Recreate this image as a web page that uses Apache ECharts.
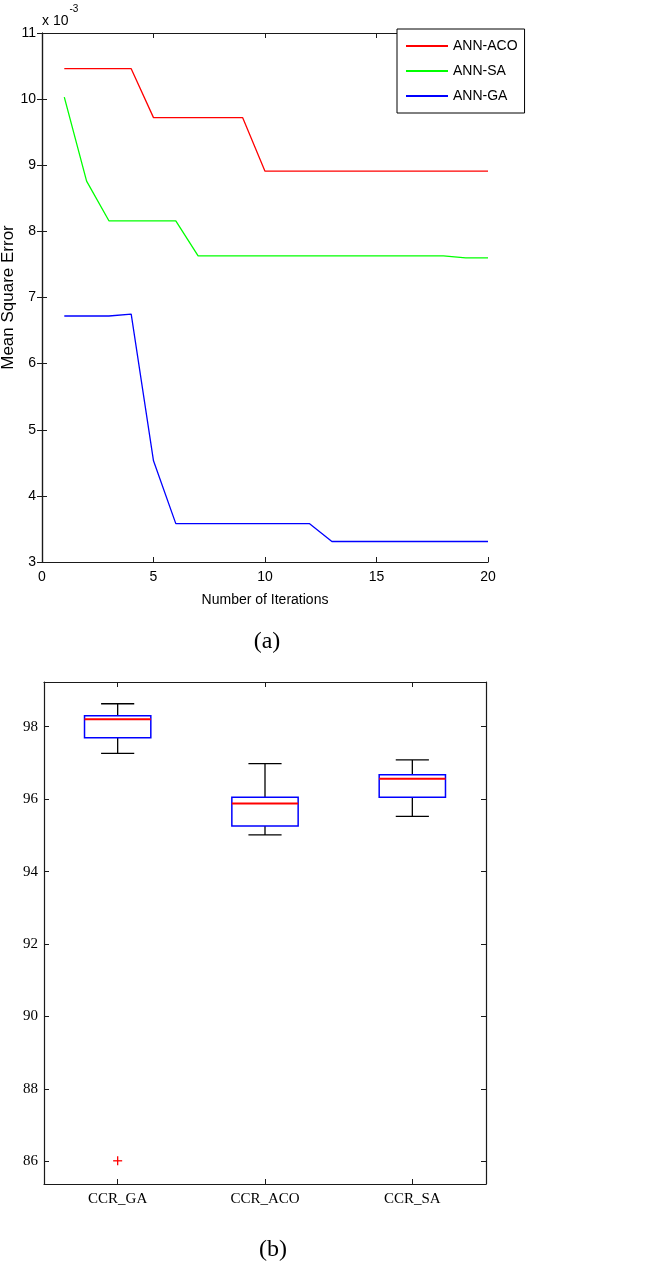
<!DOCTYPE html>
<html><head><meta charset="utf-8">
<script src="https://cdn.jsdelivr.net/npm/echarts@6/dist/echarts.min.js"></script>
<style>html,body{margin:0;padding:0;background:#fff}#c{width:662px;height:1265px}</style>
</head><body><div id="c"></div>
<script>
// ---- (a) Mean square error vs iterations (values x 10^-3) ----
const iterations = [1,2,3,4,5,6,7,8,9,10,11,12,13,14,15,16,17,18,19,20];
const annACO = [10.46,10.46,10.46,10.46,9.72,9.72,9.72,9.72,9.72,8.91,8.91,8.91,8.91,8.91,8.91,8.91,8.91,8.91,8.91,8.91];
const annSA  = [10.03,8.76,8.16,8.16,8.16,8.16,7.63,7.63,7.63,7.63,7.63,7.63,7.63,7.63,7.63,7.63,7.63,7.63,7.60,7.60];
const annGA  = [6.72,6.72,6.72,6.75,4.53,3.58,3.58,3.58,3.58,3.58,3.58,3.58,3.31,3.31,3.31,3.31,3.31,3.31,3.31,3.31];
const seriesNames = ['ANN-ACO','ANN-SA','ANN-GA'];

// ---- (b) Box plot of CCR ----
const boxCategories = ['CCR_GA','CCR_ACO','CCR_SA'];
const boxLower  = [97.26, 95.01, 95.52];
const boxQ1     = [97.69, 95.26, 96.05];
const boxMedian = [98.20, 95.88, 96.56];
const boxQ3     = [98.30, 96.05, 96.67];
const boxUpper  = [98.63, 96.98, 97.08];
const outliers  = [[0, 86.02]];
const ccrTicks  = [86, 88, 90, 92, 94, 96, 98];

const SANS = 'Liberation Sans, Arial, sans-serif';
const SERIF = 'Liberation Serif, Times New Roman, serif';
const AX = '#1a1a1a';

const chart = echarts.init(document.getElementById('c'), null, {renderer: 'canvas'});

function renderBox(params, api) {
  const i = api.value(0);
  const lo = api.coord([i, api.value(1)]);
  const q1 = api.coord([i, api.value(2)]);
  const md = api.coord([i, api.value(3)]);
  const q3 = api.coord([i, api.value(4)]);
  const hi = api.coord([i, api.value(5)]);
  const band = api.size([1, 0])[0];
  const bw = band * 0.45, cw = band * 0.225;
  const x = lo[0];
  const black = {stroke: '#000', lineWidth: 1.3};
  return {type: 'group', children: [
    {type: 'line', shape: {x1: x, y1: hi[1], x2: x, y2: q3[1]}, style: black},
    {type: 'line', shape: {x1: x, y1: q1[1], x2: x, y2: lo[1]}, style: black},
    {type: 'line', shape: {x1: x - cw / 2, y1: hi[1], x2: x + cw / 2, y2: hi[1]}, style: black},
    {type: 'line', shape: {x1: x - cw / 2, y1: lo[1], x2: x + cw / 2, y2: lo[1]}, style: black},
    {type: 'rect', shape: {x: x - bw / 2, y: q3[1], width: bw, height: q1[1] - q3[1]},
      style: {fill: 'none', stroke: '#0000ff', lineWidth: 1.5}},
    {type: 'line', shape: {x1: x - bw / 2, y1: md[1], x2: x + bw / 2, y2: md[1]},
      style: {stroke: '#ff0000', lineWidth: 2}}
  ]};
}
function renderOutlier(params, api) {
  const p = api.coord([api.value(0), api.value(1)]);
  const s = {stroke: '#ff0000', lineWidth: 1.3};
  return {type: 'group', children: [
    {type: 'line', shape: {x1: p[0] - 4.5, y1: p[1], x2: p[0] + 4.5, y2: p[1]}, style: s},
    {type: 'line', shape: {x1: p[0], y1: p[1] - 4.5, x2: p[0], y2: p[1] + 4.5}, style: s}
  ]};
}

const tickIn = {show: true, inside: true, length: 5, lineStyle: {color: AX, width: 1}};
const lineAx = {show: true, lineStyle: {color: AX, width: 1.2}};

const option = {
  animation: false,
  backgroundColor: '#fff',
  title: [
    {text: '(a)', left: 262, top: 625, textAlign: 'center',
      textStyle: {fontFamily: SERIF, fontSize: 24, fontWeight: 'normal', color: '#000'}},
    {text: '(b)', left: 268, top: 1233, textAlign: 'center',
      textStyle: {fontFamily: SERIF, fontSize: 24, fontWeight: 'normal', color: '#000'}}
  ],
  graphic: [
    {type: 'text', left: 42, top: 4, z: 10,
      style: {text: '{a|x 10}{b|-3}', rich: {
        a: {fontFamily: SANS, fontSize: 14, color: '#000', padding: [10, 0, 0, 0]},
        b: {fontFamily: SANS, fontSize: 10, color: '#000', verticalAlign: 'top', padding: [0, 0, 8, 1]}
      }}}
  ],
  legend: {
    data: seriesNames,
    orient: 'vertical',
    left: 397, top: 29,
    padding: [10, 7, 10, 8],
    itemWidth: 42, itemHeight: 14, itemGap: 11,
    itemStyle: {opacity: 0},
    backgroundColor: '#fff',
    borderColor: '#000', borderWidth: 1,
    textStyle: {fontFamily: SANS, fontSize: 14, color: '#000'},
    z: 10
  },
  grid: [
    {left: 42, top: 33, width: 446, height: 529, outerBoundsMode: 'none', containLabel: false},
    {left: 44, top: 682, width: 442, height: 502, outerBoundsMode: 'none', containLabel: false}
  ],
  xAxis: [
    {gridIndex: 0, type: 'value', min: 0, max: 20, interval: 5, position: 'bottom',
      name: 'Number of Iterations', nameLocation: 'middle', nameGap: 31, nameMoveOverlap: false,
      nameTextStyle: {fontFamily: SANS, fontSize: 14, color: '#000'},
      axisLine: lineAx, axisTick: tickIn, splitLine: {show: false},
      axisLabel: {fontFamily: SANS, fontSize: 14, color: '#000', margin: 8}},
    {gridIndex: 0, type: 'value', min: 0, max: 20, interval: 5, position: 'top',
      axisLine: lineAx, axisTick: tickIn, splitLine: {show: false}, axisLabel: {show: false}},
    {gridIndex: 1, type: 'category', data: boxCategories, position: 'bottom', boundaryGap: true,
      axisLine: lineAx, axisTick: Object.assign({alignWithLabel: true}, tickIn), splitLine: {show: false},
      axisLabel: {fontFamily: SERIF, fontSize: 15, color: '#000', margin: 8}},
    {gridIndex: 1, type: 'category', data: boxCategories, position: 'top', boundaryGap: true,
      axisLine: lineAx, axisTick: Object.assign({alignWithLabel: true}, tickIn), splitLine: {show: false},
      axisLabel: {show: false}}
  ],
  yAxis: [
    {gridIndex: 0, type: 'value', min: 3, max: 11, interval: 1, position: 'left',
      name: 'Mean Square Error', nameLocation: 'middle', nameGap: 25, nameMoveOverlap: false,
      nameTextStyle: {fontFamily: SANS, fontSize: 17, color: '#000'},
      axisLine: lineAx, axisTick: tickIn, splitLine: {show: false},
      axisLabel: {fontFamily: SANS, fontSize: 14, color: '#000', margin: 6}},
    {gridIndex: 0, type: 'value', min: 3, max: 11, interval: 1, position: 'right',
      axisLine: lineAx, axisTick: tickIn, splitLine: {show: false}, axisLabel: {show: false}},
    {gridIndex: 1, type: 'value', min: 85.38, max: 99.23, position: 'left',
      axisLine: lineAx, splitLine: {show: false},
      axisTick: Object.assign({customValues: ccrTicks}, tickIn),
      axisLabel: {customValues: ccrTicks, fontFamily: SERIF, fontSize: 15, color: '#000', margin: 6}},
    {gridIndex: 1, type: 'value', min: 85.38, max: 99.23, position: 'right',
      axisLine: lineAx, splitLine: {show: false},
      axisTick: Object.assign({customValues: ccrTicks}, tickIn),
      axisLabel: {show: false}}
  ],
  series: [
    {name: seriesNames[0], type: 'line', xAxisIndex: 0, yAxisIndex: 0, symbol: 'none',
      color: '#ff0000', lineStyle: {color: '#ff0000', width: 1.3},
      data: iterations.map((x, i) => [x, annACO[i]])},
    {name: seriesNames[1], type: 'line', xAxisIndex: 0, yAxisIndex: 0, symbol: 'none',
      color: '#00ff00', lineStyle: {color: '#00ff00', width: 1.3},
      data: iterations.map((x, i) => [x, annSA[i]])},
    {name: seriesNames[2], type: 'line', xAxisIndex: 0, yAxisIndex: 0, symbol: 'none',
      color: '#0000ff', lineStyle: {color: '#0000ff', width: 1.3},
      data: iterations.map((x, i) => [x, annGA[i]])},
    {name: 'CCR box', type: 'custom', xAxisIndex: 2, yAxisIndex: 2, renderItem: renderBox,
      encode: {x: 0, y: [1, 2, 3, 4, 5]},
      data: boxCategories.map((c, i) => [i, boxLower[i], boxQ1[i], boxMedian[i], boxQ3[i], boxUpper[i]])},
    {name: 'CCR outlier', type: 'custom', xAxisIndex: 2, yAxisIndex: 2, renderItem: renderOutlier,
      encode: {x: 0, y: 1}, data: outliers}
  ]
};
chart.setOption(option);
</script>
</body></html>
